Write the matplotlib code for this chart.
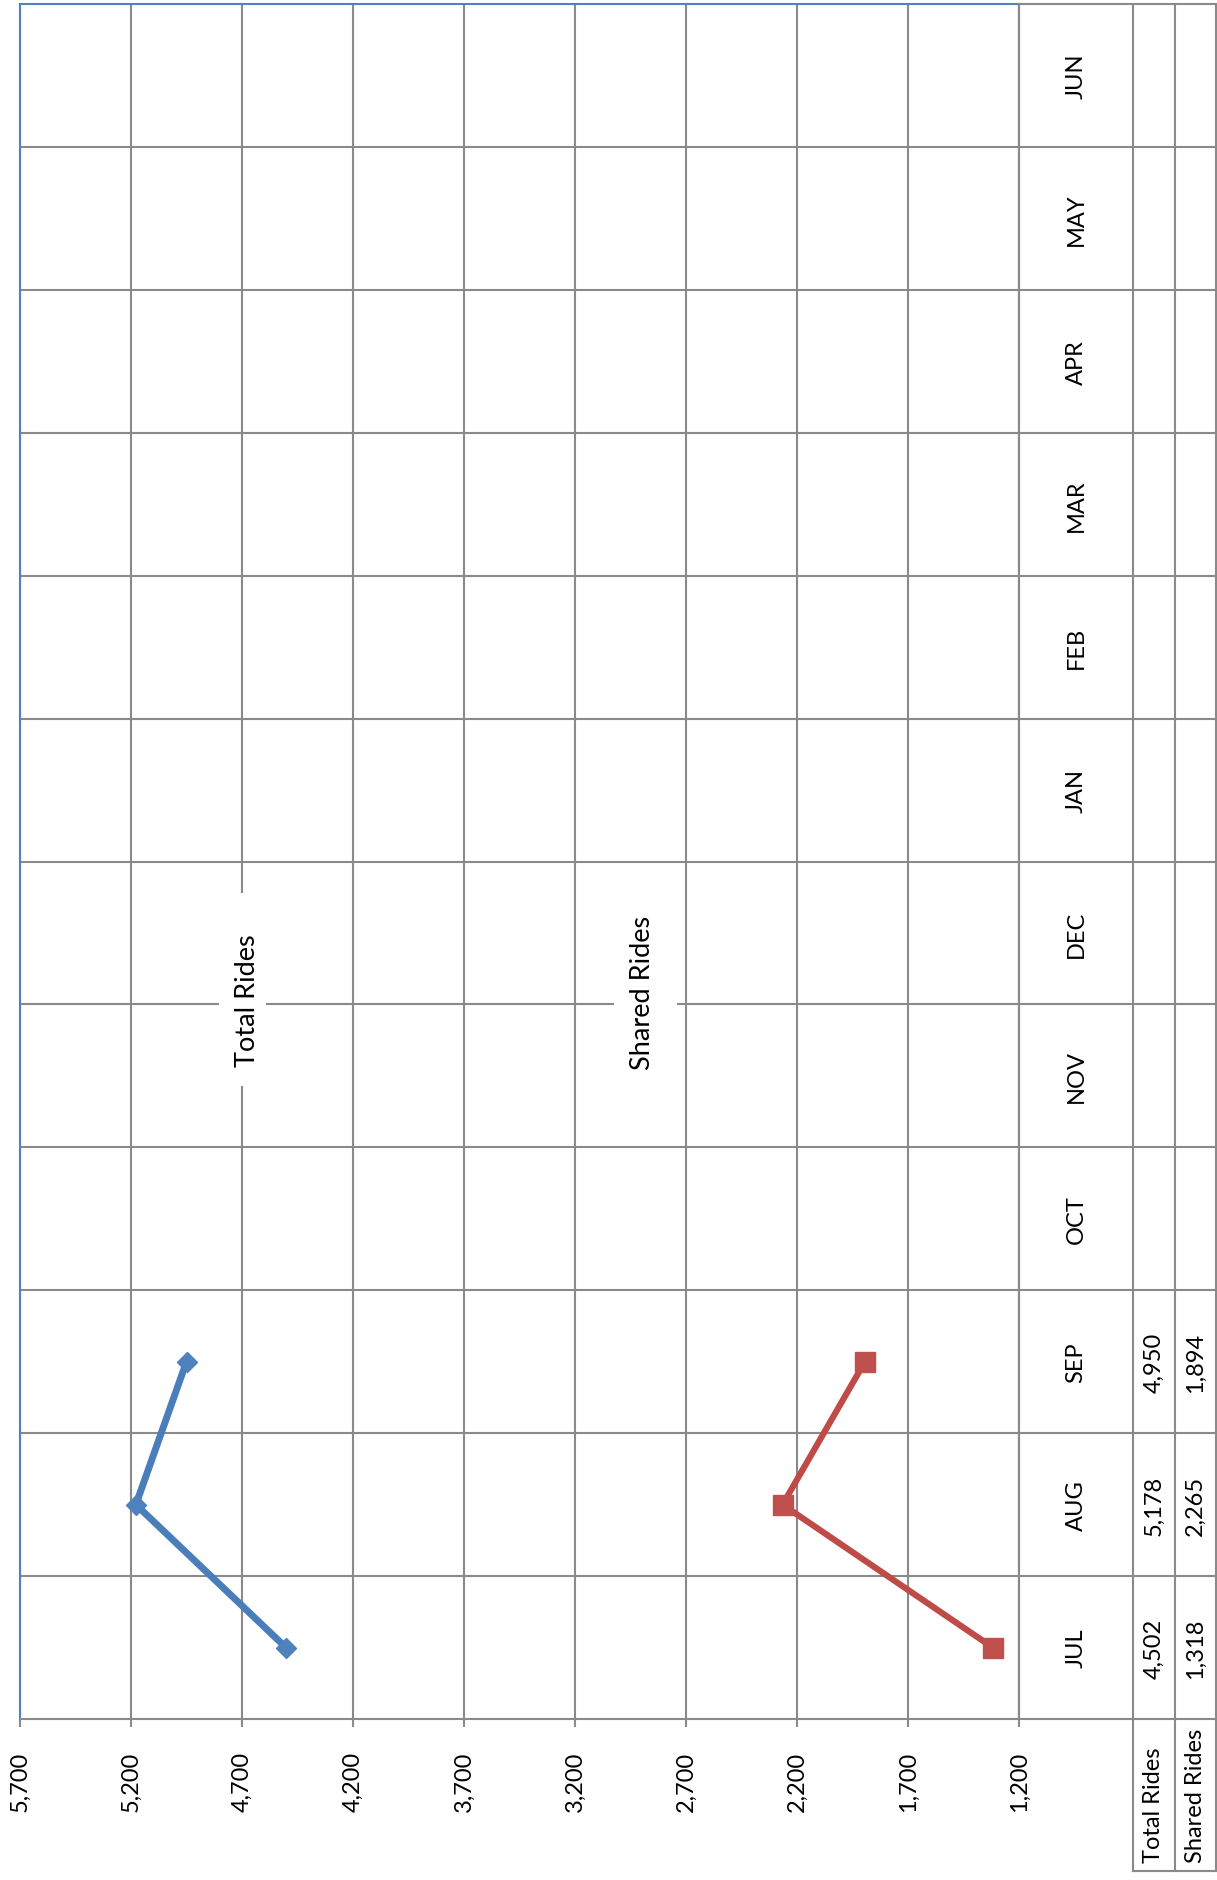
import numpy as np
import matplotlib
matplotlib.use("Agg")
import matplotlib.pyplot as plt
from matplotlib.patches import Rectangle
from matplotlib.ticker import FuncFormatter

plt.rcParams['font.family'] = ['Lato', 'DejaVu Sans']

# ride counts per fiscal month (only Jul-Sep reported so far)
months = ['JUL', 'AUG', 'SEP', 'OCT', 'NOV', 'DEC', 'JAN', 'FEB', 'MAR', 'APR', 'MAY', 'JUN']
total_rides = [4502, 5178, 4950]
shared_rides = [1318, 2265, 1894]
series_names = ['Total Rides', 'Shared Rides']
value_ticks = [1200, 1700, 2200, 2700, 3200, 3700, 4200, 4700, 5200, 5700]

W, H = 1217, 1881
GRID = '#8a8a8a'
BLUE_LINE, BLUE_MK = '#4A7EBB', '#4F81BD'
RED_LINE, RED_MK = '#BE4B48', '#C0504D'


def px_rect(x0, y0, x1, y1):
    return [x0 / W, 1 - y1 / H, (x1 - x0) / W, (y1 - y0) / H]


fig = plt.figure(figsize=(W / 100, H / 100), dpi=100)
ax = fig.add_axes(px_rect(20, 5, 1019, 1720))
tab = fig.add_axes(px_rect(1019, 5, 1216, 1872))

# chart is laid out sideways: values run right-to-left, months bottom-to-top
n = len(months)
ax.set_xlim(value_ticks[-1], value_ticks[0])
ax.set_ylim(0, n)
ax.set_axisbelow(True)
ax.set_xticks(value_ticks)
ax.xaxis.set_major_formatter(FuncFormatter(lambda v, p: f'{int(v):,}'))
ax.grid(axis='x', color=GRID, lw=1.5)
for b in range(1, n):
    ax.axhline(b, color=GRID, lw=1.5, zorder=0.6)
ax.set_yticks([])
ax.tick_params(axis='x', direction='out', length=5.8, width=1.5, color=GRID,
               labelsize=17, labelrotation=90, pad=17)

for side in ['left', 'top']:
    ax.spines[side].set_color(BLUE_MK)
    ax.spines[side].set_linewidth(1.5)
for side in ['bottom', 'right']:
    ax.spines[side].set_color(GRID)
    ax.spines[side].set_linewidth(1.5)

ypos = np.arange(n) + 0.5
ax.plot(total_rides, ypos[:len(total_rides)], color=BLUE_LINE, lw=5, marker='D',
        ms=10, mfc=BLUE_MK, mec=BLUE_MK, zorder=4, solid_capstyle='round')
ax.plot(shared_rides, ypos[:len(shared_rides)], color=RED_LINE, lw=4.5, marker='s',
        ms=14, mfc=RED_MK, mec=RED_MK, zorder=4, solid_capstyle='round')

# series name labels with white backing
ax.add_patch(Rectangle((4592, 4.43), 212, 1.35, fc='white', ec='none', zorder=1))
ax.text(4673, 5.03, series_names[0], rotation=90, ha='center', va='center',
        fontsize=19.5, zorder=3)
ax.add_patch(Rectangle((2741, 4.43), 283, 1.35, fc='white', ec='none', zorder=1))
ax.text(2898, 5.09, series_names[1], rotation=90, ha='center', va='center',
        fontsize=19.5, zorder=3)

# data table to the right of the plot
row_h = 152 / (1715 / n)
cols = [0, 114, 156, 197]
tab.set_xlim(0, cols[-1])
tab.set_ylim(-row_h, n)
tab.axis('off')
lk = dict(color=GRID, lw=1.5, clip_on=False, solid_capstyle='projecting')
for b in range(0, n + 1):
    tab.plot([cols[0], cols[-1]], [b, b], **lk)
tab.plot([cols[0], cols[0]], [0, n], **lk)
for c in cols[1:]:
    tab.plot([c, c], [-row_h, n], **lk)
tab.plot([cols[1], cols[-1]], [-row_h, -row_h], **lk)

for i, m in enumerate(months):
    tab.text((cols[0] + cols[1]) / 2, ypos[i], m, rotation=90, ha='center',
             va='center', fontsize=17)
for j, series in enumerate([total_rides, shared_rides]):
    cx = (cols[j + 1] + cols[j + 2]) / 2
    for i, v in enumerate(series):
        tab.text(cx, ypos[i], f'{v:,}', rotation=90, ha='center', va='center',
                 fontsize=17)
    tab.text(cx, -row_h + 0.06, series_names[j], rotation=90, ha='center',
             va='bottom', fontsize=17)

fig.savefig('out.png', dpi=100)
